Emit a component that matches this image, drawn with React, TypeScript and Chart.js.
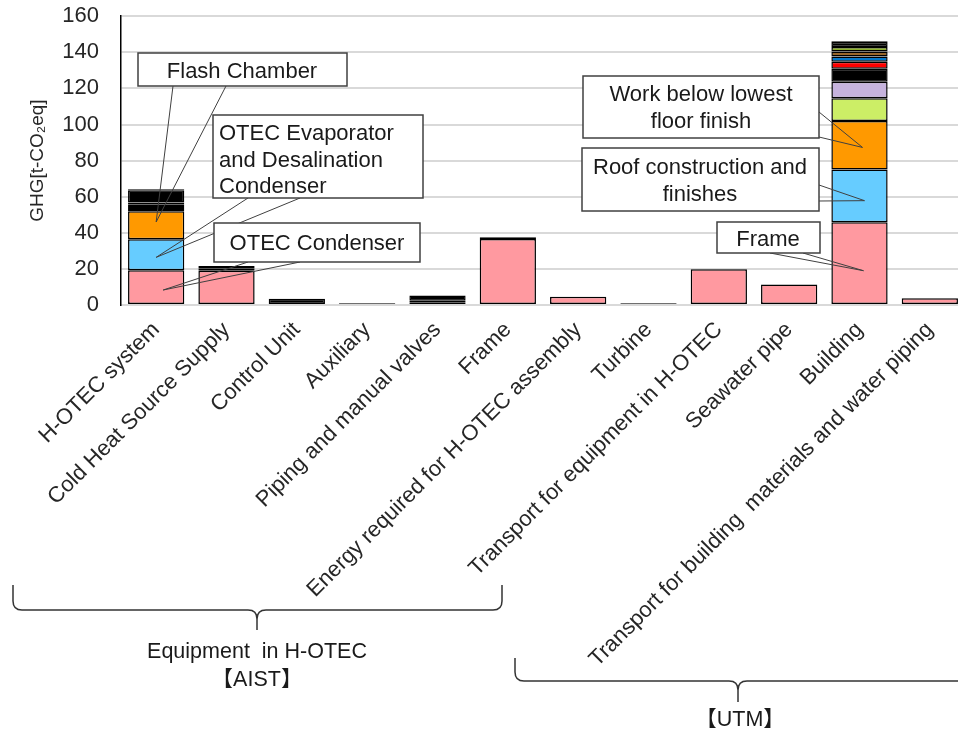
import React, { useEffect, useRef } from "react";
import { Chart, registerables } from "chart.js";

Chart.register(...registerables);

const FONT = "Arial, 'Liberation Sans', Helvetica, 'Noto Sans CJK JP', sans-serif";

const categories = [
  "H-OTEC system",
  "Cold Heat Source Supply",
  "Control Unit",
  "Auxiliary",
  "Piping and manual valves",
  "Frame",
  "Energy required for H-OTEC assembly",
  "Turbine",
  "Transport for equipment in H-OTEC",
  "Seawater pipe",
  "Building",
  "Transport for building  materials and water piping",
];

// stacked segments, bottom to top (null = no segment)
const segPink = [19.2, 19.0, null, null, 1.5, 36.5, 4.6, null, 19.8, 11.4, 45.8, 3.8];
const segSky = [17.2, 1.3, null, null, 0.8, null, null, null, null, null, 29.3, null];
const segOrange = [15.6, null, null, null, null, null, null, null, null, null, 26.8, null];
const segWhiteA = [1.2, null, null, null, null, null, null, null, null, null, null, null];
const segLime = [1.1, null, null, null, null, null, null, null, null, null, 12.6, null];
const segWhiteB = [1.2, null, null, null, null, null, null, null, null, null, null, null];
const segLavender = [1.3, null, null, null, null, null, null, null, null, null, 9.2, null];
const segBlack = [6.8, 1.3, 3.5, 1.0, 2.9, 1.1, null, 1.0, null, null, 7.2, null];
const segRed = [null, null, null, null, null, null, null, null, null, null, 3.8, null];
const segBlue = [null, null, null, null, null, null, null, null, null, null, 3.0, null];
const segBrown = [null, null, null, null, null, null, null, null, null, null, 2.7, null];
const segGreen = [null, null, null, null, null, null, null, null, null, null, 2.5, null];
const segBlack2 = [null, null, null, null, null, null, null, null, null, null, 2.8, null];
const segTop = [0.5, null, null, null, null, null, null, null, null, null, 0.4, null];

const yTicksMin = 0;
const yTicksMax = 160;
const yTickStep = 20;

const segments = [
  { name: "pink", data: segPink, color: "#FF99A0" },
  { name: "sky", data: segSky, color: "#66CCFF" },
  { name: "orange", data: segOrange, color: "#FF9900" },
  { name: "whiteA", data: segWhiteA, color: "#FFFFFF" },
  { name: "lime", data: segLime, color: "#CCEE66" },
  { name: "whiteB", data: segWhiteB, color: "#FFFFFF" },
  { name: "lavender", data: segLavender, color: "#C6B3DD" },
  { name: "black", data: segBlack, color: "#000000" },
  { name: "red", data: segRed, color: "#FF0000" },
  { name: "blue", data: segBlue, color: "#0077CC" },
  { name: "brown", data: segBrown, color: "#99662A" },
  { name: "green", data: segGreen, color: "#8DB12B" },
  { name: "black2", data: segBlack2, color: "#000000" },
  { name: "top", data: segTop, color: ["#FF9900", null, null, null, null, null, null, null, null, null, "#D9BE94", null] },
];

type Callout = {
  lines: string[];
  box: [number, number, number, number];
  textX: number;
  align: CanvasTextAlign;
  lineYs: number[];
  anchors: [number, number][];
  cat: number;
  dx: number;
  value: number;
};

const callouts: Callout[] = [
  { lines: ["Flash Chamber"], box: [138, 53, 347, 86], textX: 242, align: "center", lineYs: [72], anchors: [[173, 86], [226, 86]], cat: 0, dx: 0, value: 46 },
  { lines: ["OTEC Evaporator", "and Desalination", "Condenser"], box: [213, 115, 423, 198], textX: 219, align: "left", lineYs: [134, 161, 187], anchors: [[248, 198], [300, 198]], cat: 0, dx: 0, value: 26.4 },
  { lines: ["OTEC Condenser"], box: [214, 223, 420, 262], textX: 317, align: "center", lineYs: [244], anchors: [[248, 262], [300, 262]], cat: 0, dx: 7, value: 8.3 },
  { lines: ["Work below lowest", "floor finish"], box: [583, 76, 819, 138], textX: 701, align: "center", lineYs: [95, 122], anchors: [[819, 112], [819, 137]], cat: 10, dx: 3, value: 87.3 },
  { lines: ["Roof construction and", "finishes"], box: [582, 148, 819, 211], textX: 700, align: "center", lineYs: [168, 195], anchors: [[819, 185], [819, 201]], cat: 10, dx: 5, value: 57.8 },
  { lines: ["Frame"], box: [717, 222, 820, 253], textX: 768, align: "center", lineYs: [240], anchors: [[770, 253], [803, 253]], cat: 10, dx: 4, value: 19 },
];

type Brace = { x0: number; x1: number; yTop: number; yH: number; xm: number; yTip: number; labels: string[]; labelX: number; labelYs: number[] };

const braces: Brace[] = [
  { x0: 13, x1: 502, yTop: 585, yH: 610, xm: 257, yTip: 630, labels: ["Equipment  in H-OTEC", "【AIST】"], labelX: 257, labelYs: [652, 680] },
  { x0: 515, x1: 975, yTop: 658, yH: 681, xm: 738, yTip: 702, labels: ["【UTM】"], labelX: 740, labelYs: [720] },
];

const annotationPlugin = {
  id: "annotations",
  afterDraw(chart: any) {
    const ctx = chart.ctx as CanvasRenderingContext2D;
    const xs = chart.scales.x;
    const ys = chart.scales.y;
    ctx.save();
    ctx.strokeStyle = "#404040";
    ctx.lineWidth = 1;
    for (const c of callouts) {
      const tx = xs.getPixelForValue(c.cat) + c.dx;
      const ty = ys.getPixelForValue(c.value);
      for (const a of c.anchors) {
        ctx.beginPath();
        ctx.moveTo(a[0], a[1]);
        ctx.lineTo(tx, ty);
        ctx.stroke();
      }
    }
    for (const c of callouts) {
      const [x0, y0, x1, y1] = c.box;
      ctx.fillStyle = "#FFFFFF";
      ctx.fillRect(x0, y0, x1 - x0, y1 - y0);
      ctx.strokeStyle = "#404040";
      ctx.lineWidth = 1.5;
      ctx.strokeRect(x0, y0, x1 - x0, y1 - y0);
      ctx.fillStyle = "#1a1a1a";
      ctx.font = `22px ${FONT}`;
      ctx.textAlign = c.align;
      ctx.textBaseline = "middle";
      c.lines.forEach((t, i) => ctx.fillText(t, c.textX, c.lineYs[i]));
    }
    const r = 9;
    ctx.strokeStyle = "#333333";
    ctx.lineWidth = 1.5;
    for (const b of braces) {
      ctx.beginPath();
      ctx.moveTo(b.x0, b.yTop);
      ctx.lineTo(b.x0, b.yH - r);
      ctx.quadraticCurveTo(b.x0, b.yH, b.x0 + r, b.yH);
      ctx.lineTo(b.xm - r, b.yH);
      ctx.quadraticCurveTo(b.xm, b.yH, b.xm, b.yH + r);
      ctx.lineTo(b.xm, b.yTip);
      ctx.moveTo(b.xm, b.yH + r);
      ctx.quadraticCurveTo(b.xm, b.yH, b.xm + r, b.yH);
      ctx.lineTo(b.x1 - r, b.yH);
      ctx.quadraticCurveTo(b.x1, b.yH, b.x1, b.yH - r);
      ctx.lineTo(b.x1, b.yTop);
      ctx.stroke();
      ctx.fillStyle = "#1a1a1a";
      ctx.font = `21.5px ${FONT}`;
      ctx.textAlign = "center";
      ctx.textBaseline = "middle";
      b.labels.forEach((t, i) => ctx.fillText(t, b.labelX, b.labelYs[i]));
    }
    ctx.restore();
  },
};

export default function App() {
  const ref = useRef<HTMLCanvasElement | null>(null);
  useEffect(() => {
    if (!ref.current) return;
    const chart = new Chart(ref.current, {
      type: "bar",
      data: {
        labels: categories,
        datasets: segments.map((s) => ({
          label: s.name,
          data: s.data as any,
          backgroundColor: s.color as any,
          borderColor: "#000000",
          borderWidth: 1.5,
          borderSkipped: false,
          barPercentage: 0.8,
          categoryPercentage: 1,
        })),
      },
      options: {
        responsive: false,
        animation: false,
        devicePixelRatio: 1,
        layout: { padding: { top: 0, right: 1, left: 0, bottom: 0 } },
        plugins: { legend: { display: false }, tooltip: { enabled: false } },
        scales: {
          x: {
            stacked: true,
            grid: { display: false, drawTicks: false },
            border: { color: "#D9D9D9", width: 2 },
            ticks: {
              autoSkip: false,
              minRotation: 45,
              maxRotation: 45,
              padding: 12,
              color: "#262626",
              font: { family: FONT, size: 22 },
            },
            afterFit: (s: any) => {
              s.height = 428;
            },
          },
          y: {
            stacked: true,
            min: yTicksMin,
            max: yTicksMax,
            ticks: {
              stepSize: yTickStep,
              padding: 3,
              color: "#262626",
              font: { family: FONT, size: 22 },
            },
            grid: { color: "#D9D9D9", lineWidth: 2, drawTicks: true, tickLength: 19, tickColor: "rgba(0,0,0,0)" },
            border: { color: "#000000", width: 1.5 },
            title: {
              display: true,
              text: "GHG[t-CO₂eq]",
              color: "#262626",
              font: { family: FONT, size: 19 },
              padding: { top: 26, bottom: 0 },
            },
            afterFit: (s: any) => {
              s.width = 121;
            },
          },
        },
      },
      plugins: [annotationPlugin],
    });
    return () => chart.destroy();
  }, []);
  return (
    <div style={{ position: "fixed", left: 0, top: 0, width: 958, height: 733, overflow: "hidden", background: "#fff" }}>
      <canvas ref={ref} width={966} height={733} style={{ display: "block", width: 966, height: 733 }} />
    </div>
  );
}
